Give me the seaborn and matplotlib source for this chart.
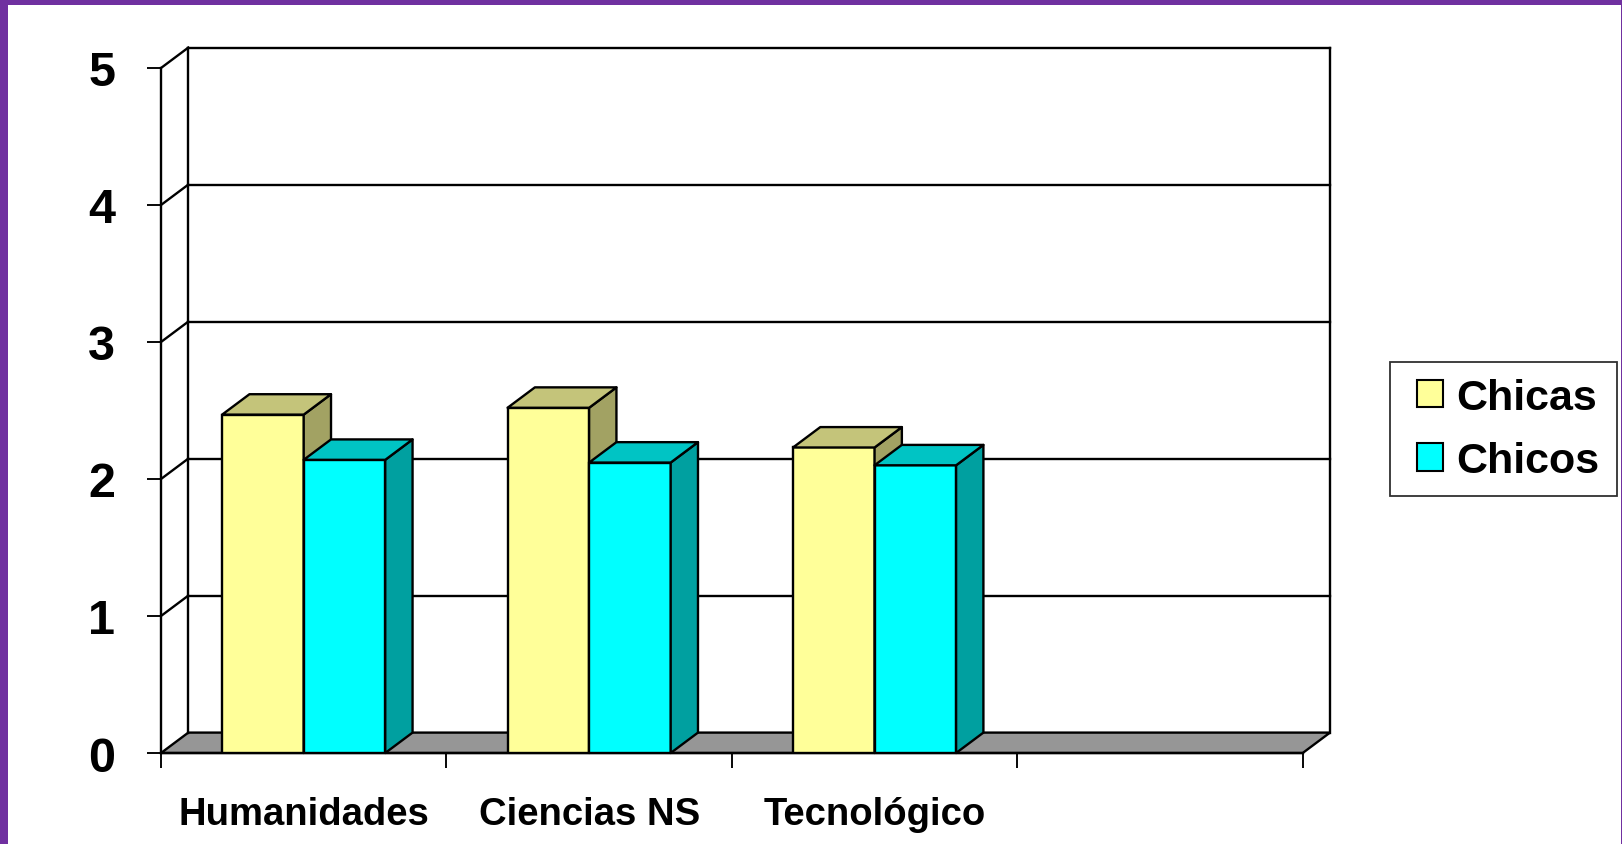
import matplotlib
matplotlib.use("Agg")
import matplotlib.pyplot as plt
from matplotlib.patches import Polygon, Patch, Rectangle
import seaborn as sns
import pandas as pd
import numpy as np

# ---- data ----
categories = ["Humanidades", "Ciencias NS", "Tecnológico"]
series_names = ["Chicas", "Chicos"]
chicas = [2.47, 2.52, 2.23]
chicos = [2.14, 2.12, 2.10]
y_ticks = [0, 1, 2, 3, 4, 5]

front_colors = ["#FFFF99", "#00FFFF"]
top_colors = ["#C4C47A", "#00C4C4"]
side_colors = ["#A2A263", "#00A0A0"]

sns.set_theme(style="white")
plt.rcParams["font.family"] = ["Liberation Sans", "DejaVu Sans"]
plt.rcParams["font.weight"] = "bold"
plt.rcParams["text.color"] = "black"
plt.rcParams["xtick.color"] = "black"
plt.rcParams["ytick.color"] = "black"
plt.rcParams["xtick.labelcolor"] = "black"
plt.rcParams["ytick.labelcolor"] = "black"

W, H = 1622, 845
fig = plt.figure(figsize=(W / 100, H / 100), dpi=100)
fig.patch.set_facecolor("white")

# axes: front plane maps x -0.5..3.5 -> 161..1302.7 px, y 0..5 -> 754..69 px
x0, x1 = 161, 1302.7
y0, y5 = 754, 69
ax = fig.add_axes([x0 / W, 1 - y0 / H, (x1 - x0) / W, (y0 - y5) / H])
ax.set_facecolor("none")

df = pd.DataFrame({
    "cat": categories * 2,
    "val": chicas + chicos,
    "serie": [series_names[0]] * 3 + [series_names[1]] * 3,
})

lw = 1.7

sns.barplot(data=df, x="cat", y="val", hue="serie", order=categories,
            hue_order=series_names, palette=front_colors, width=2 / 3.5,
            edgecolor="black", linewidth=lw, saturation=1, legend=False,
            errorbar=None, ax=ax)

ax.set_xlim(-0.5, 3.5)
ax.set_ylim(0, 5)
ax.set_xlabel("")
ax.set_ylabel("")

# depth offsets in data units
dx = 27.3 / ((x1 - x0) / 4)
dy = 20.4 / ((y0 - y5) / 5)

line_kw = dict(color="black", lw=lw, clip_on=False, zorder=1, solid_capstyle="projecting")

# floor
floor = Polygon([(-0.5, 0), (-0.5 + dx, dy), (3.5 + dx, dy), (3.5, 0)], closed=True,
                facecolor="#969696", edgecolor="black", lw=lw, clip_on=False, zorder=0.8)
ax.add_patch(floor)

# back wall grid + outline
for k in y_ticks[1:]:
    ax.plot([-0.5 + dx, 3.5 + dx], [k + dy, k + dy], **line_kw)
    ax.plot([-0.5, -0.5 + dx], [k, k + dy], **line_kw)
ax.plot([-0.5 + dx, -0.5 + dx], [dy, 5 + dy], **line_kw)
ax.plot([3.5 + dx, 3.5 + dx], [dy, 5 + dy], **line_kw)

# 3D faces on bars
for i, cont in enumerate(ax.containers):
    z = 3 + i
    for bar in cont:
        bx, bw, bh = bar.get_x(), bar.get_width(), bar.get_height()
        bar.set_zorder(z)
        top = Polygon([(bx, bh), (bx + dx, bh + dy), (bx + bw + dx, bh + dy), (bx + bw, bh)],
                      closed=True, facecolor=top_colors[i], edgecolor="black", lw=lw,
                      clip_on=False, zorder=z, joinstyle="round")
        side = Polygon([(bx + bw, 0), (bx + bw + dx, dy), (bx + bw + dx, bh + dy), (bx + bw, bh)],
                       closed=True, facecolor=side_colors[i], edgecolor="black", lw=lw,
                       clip_on=False, zorder=z, joinstyle="round")
        ax.add_patch(side)
        ax.add_patch(top)

# spines
for s in ["top", "right"]:
    ax.spines[s].set_visible(False)
for s in ["left", "bottom"]:
    ax.spines[s].set_color("black")
    ax.spines[s].set_linewidth(lw)
    ax.spines[s].set_zorder(2)

ax.set_yticks(y_ticks)
ax.set_yticklabels([str(v) for v in y_ticks])
ax.tick_params(axis="y", length=10, width=lw * 0.8, color="black", direction="out",
               pad=23, labelsize=35, left=True, labelcolor="black")
ax.set_xticks(range(len(categories)))
ax.set_xticklabels(categories)
ax.set_xticks(np.arange(-0.5, 4.0, 1.0), minor=True)
ax.tick_params(axis="x", which="major", length=0, pad=31, labelsize=27.5, labelcolor="black")
ax.tick_params(axis="x", which="minor", length=11, width=lw * 0.8, color="black",
               direction="out", bottom=True)
for t in ax.get_xticklabels() + ax.get_yticklabels():
    t.set_fontweight("bold")
    t.set_color("black")
ax.grid(False)

# legend (content without frame) + separate frame box
handles = [Patch(facecolor=front_colors[i], edgecolor="black", lw=1.5, label=series_names[i])
           for i in range(2)]
leg = fig.legend(handles=handles, loc="upper left",
                 bbox_to_anchor=(1417 / W, 1 - 379 / H), bbox_transform=fig.transFigure,
                 borderaxespad=0, borderpad=0, handlelength=0.6, handleheight=0.6,
                 handletextpad=0.3, labelspacing=0.54, frameon=False,
                 prop={"size": 31, "weight": "bold"})
for t in leg.get_texts():
    t.set_color("black")
fig.add_artist(Rectangle((1390 / W, 1 - 497 / H), (1617 - 1390) / W, (497 - 363) / H,
                         transform=fig.transFigure, facecolor="white",
                         edgecolor="#303030", lw=1.3, zorder=0.5))

# purple frame
purple = "#7030A0"
fig.add_artist(Rectangle((0, 0), 8 / W, 1, transform=fig.transFigure,
                         facecolor=purple, edgecolor="none", zorder=10))
fig.add_artist(Rectangle((0, 1 - 6 / H), 1, 6 / H, transform=fig.transFigure,
                         facecolor=purple, edgecolor="none", zorder=10))
fig.add_artist(Rectangle((1 - 1.5 / W, 0), 1.5 / W, 1, transform=fig.transFigure,
                         facecolor=purple, edgecolor="none", zorder=10))

fig.savefig("out.png", dpi=100, facecolor="white")
